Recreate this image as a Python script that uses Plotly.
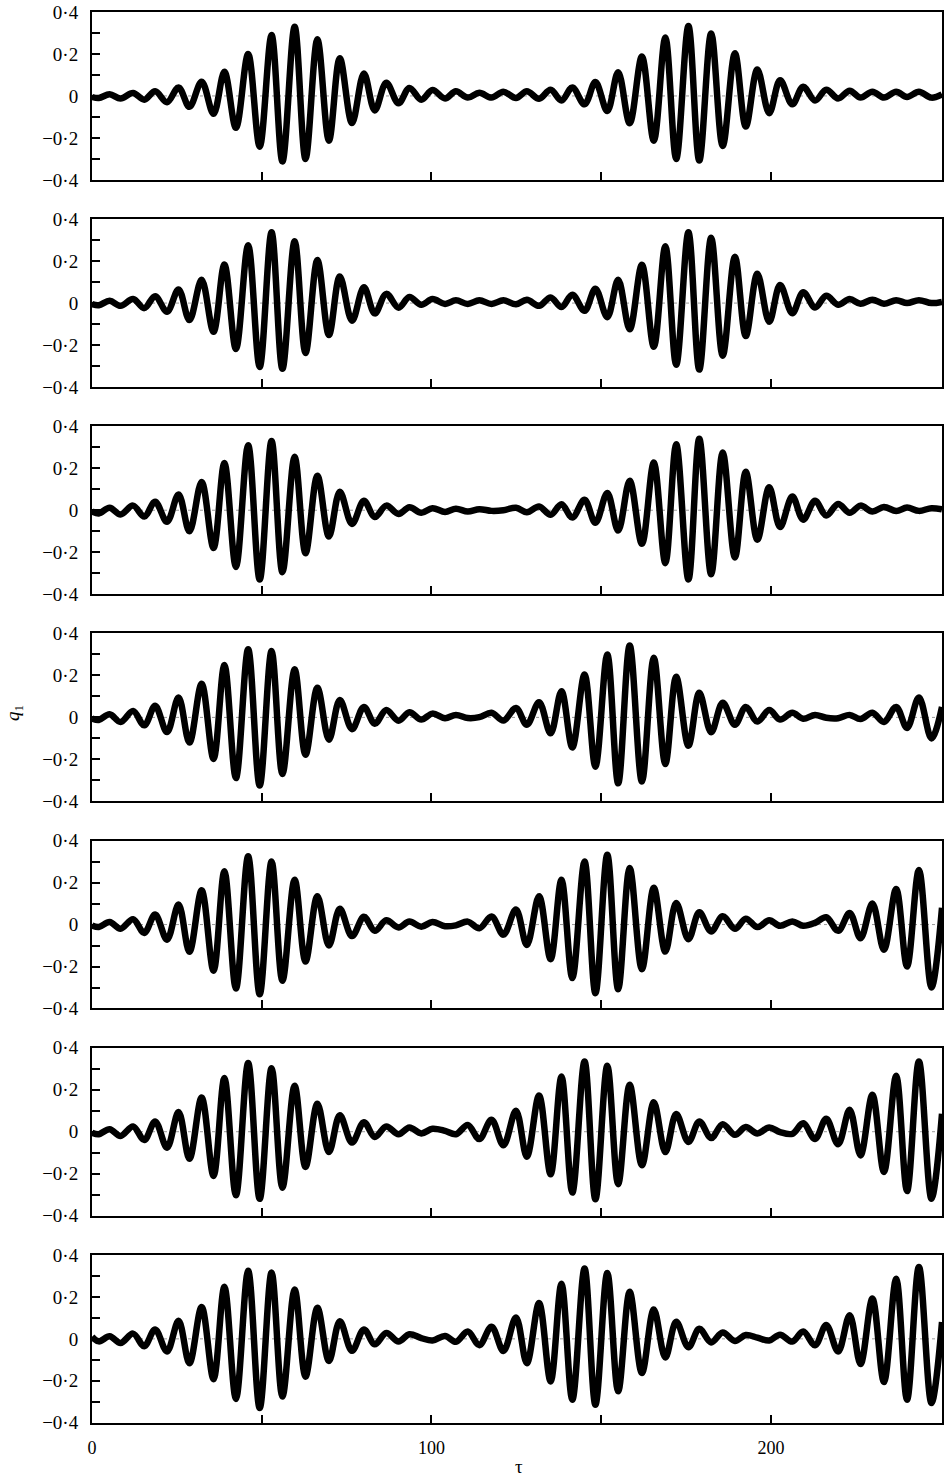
import plotly.graph_objects as go

# time of each extremum plus the two ends of the record
TAU = [0.0, 2.0, 5.2, 8.4, 12.1, 15.4, 18.6, 22.1, 25.5, 28.7, 32.3, 35.8, 39.0, 42.4, 46.0, 49.4,
       52.9, 56.1, 59.7, 62.9, 66.4, 69.8, 73.0, 76.6, 80.1, 83.3, 86.7, 90.3, 93.5, 97.0, 100.3,
       104.0, 107.2, 110.7, 114.1, 117.7, 121.2, 124.9, 128.1, 131.7, 135.1, 138.3, 141.5, 145.1,
       148.3, 151.8, 155.0, 158.4, 162.0, 165.5, 168.9, 172.1, 175.7, 178.9, 182.4, 185.8, 189.4,
       192.6, 196.0, 199.5, 202.7, 206.3, 209.5, 213.0, 216.3, 219.8, 223.2, 226.4, 229.9, 233.3,
       236.9, 240.1, 243.6, 247.3, 250.4]

Q1 = [-0.005, -0.010, 0.008, -0.012, 0.014, -0.018, 0.022, -0.030, 0.040, -0.052, 0.068, -0.085,
      0.115, -0.152, 0.200, -0.242, 0.290, -0.312, 0.330, -0.300, 0.270, -0.213, 0.180, -0.129,
      0.107, -0.069, 0.063, -0.035, 0.038, -0.018, 0.028, -0.012, 0.022, -0.008, 0.015, -0.008,
      0.020, -0.010, 0.022, -0.013, 0.030, -0.022, 0.040, -0.040, 0.066, -0.072, 0.113, -0.130,
      0.188, -0.213, 0.279, -0.300, 0.333, -0.308, 0.298, -0.239, 0.204, -0.146, 0.126, -0.082,
      0.075, -0.040, 0.044, -0.022, 0.030, -0.012, 0.025, -0.008, 0.020, -0.008, 0.020, -0.005,
      0.020, -0.008, 0.008]

Q2 = [-0.005, -0.010, 0.011, -0.013, 0.019, -0.024, 0.033, -0.041, 0.065, -0.081, 0.111, -0.137,
      0.184, -0.219, 0.276, -0.305, 0.337, -0.313, 0.295, -0.238, 0.205, -0.152, 0.127, -0.084,
      0.075, -0.049, 0.044, -0.022, 0.029, -0.008, 0.019, -0.004, 0.013, -0.004, 0.013, -0.004,
      0.013, -0.006, 0.016, -0.013, 0.027, -0.019, 0.040, -0.037, 0.068, -0.067, 0.111, -0.125,
      0.183, -0.208, 0.271, -0.294, 0.337, -0.317, 0.311, -0.251, 0.221, -0.157, 0.140, -0.089,
      0.086, -0.048, 0.052, -0.021, 0.035, -0.008, 0.019, -0.003, 0.016, -0.003, 0.014, 0.000,
      0.014, 0.000, 0.006]

Q3 = [-0.005, -0.015, 0.012, -0.020, 0.022, -0.030, 0.040, -0.055, 0.075, -0.100, 0.135, -0.180,
      0.225, -0.270, 0.310, -0.330, 0.330, -0.295, 0.255, -0.205, 0.165, -0.125, 0.088, -0.065,
      0.045, -0.032, 0.022, -0.018, 0.014, -0.012, 0.010, -0.008, 0.007, -0.006, 0.005, -0.003,
      0.000, 0.012, -0.010, 0.018, -0.022, 0.028, -0.035, 0.050, -0.060, 0.082, -0.097, 0.140,
      -0.160, 0.227, -0.252, 0.314, -0.330, 0.341, -0.305, 0.275, -0.225, 0.183, -0.140, 0.110,
      -0.080, 0.065, -0.045, 0.045, -0.025, 0.030, -0.012, 0.022, -0.006, 0.016, -0.004, 0.013,
      -0.003, 0.010, 0.004]

Q4 = [-0.005, -0.012, 0.015, -0.022, 0.030, -0.038, 0.055, -0.070, 0.095, -0.120, 0.160, -0.198,
      0.250, -0.289, 0.325, -0.325, 0.316, -0.270, 0.229, -0.178, 0.141, -0.106, 0.083, -0.056,
      0.050, -0.030, 0.035, -0.016, 0.025, -0.010, 0.018, -0.004, 0.012, -0.003, 0.001, 0.022,
      -0.015, 0.045, -0.035, 0.072, -0.076, 0.125, -0.143, 0.205, -0.235, 0.300, -0.314, 0.343,
      -0.305, 0.284, -0.222, 0.194, -0.135, 0.117, -0.071, 0.070, -0.035, 0.050, -0.020, 0.035,
      -0.010, 0.022, -0.006, 0.012, -0.002, -0.004, 0.012, -0.008, 0.022, -0.022, 0.050, -0.050,
      0.095, -0.100, 0.050]

Q5 = [-0.005, -0.012, 0.012, -0.020, 0.025, -0.040, 0.048, -0.072, 0.095, -0.130, 0.163, -0.220,
      0.254, -0.305, 0.325, -0.332, 0.300, -0.268, 0.214, -0.176, 0.135, -0.100, 0.075, -0.055,
      0.037, -0.030, 0.020, -0.014, 0.014, -0.010, 0.012, -0.008, -0.004, 0.014, -0.018, 0.038,
      -0.048, 0.072, -0.097, 0.135, -0.165, 0.214, -0.255, 0.300, -0.327, 0.333, -0.308, 0.270,
      -0.213, 0.175, -0.129, 0.103, -0.070, 0.059, -0.033, 0.040, -0.020, 0.028, -0.012, 0.020,
      -0.006, 0.015, -0.006, 0.008, 0.035, -0.030, 0.055, -0.065, 0.100, -0.120, 0.170, -0.200,
      0.260, -0.300, 0.080]

Q6 = [-0.005, -0.012, 0.012, -0.020, 0.025, -0.040, 0.049, -0.076, 0.094, -0.129, 0.163, -0.211,
      0.256, -0.303, 0.327, -0.320, 0.303, -0.267, 0.219, -0.168, 0.133, -0.097, 0.078, -0.052,
      0.045, -0.025, 0.025, -0.012, 0.020, -0.008, 0.014, 0.004, -0.012, 0.032, -0.035, 0.057,
      -0.065, 0.100, -0.119, 0.173, -0.203, 0.263, -0.290, 0.335, -0.322, 0.314, -0.250, 0.224,
      -0.160, 0.140, -0.097, 0.084, -0.049, 0.049, -0.030, 0.036, -0.015, 0.022, -0.008, 0.020,
      -0.002, -0.010, 0.040, -0.035, 0.062, -0.060, 0.105, -0.113, 0.176, -0.192, 0.267, -0.283,
      0.335, -0.319, 0.086]

Q7 = [0.010, -0.012, 0.012, -0.020, 0.025, -0.035, 0.045, -0.060, 0.086, -0.116, 0.152, -0.192,
      0.248, -0.286, 0.324, -0.330, 0.316, -0.275, 0.235, -0.180, 0.148, -0.105, 0.084, -0.057,
      0.045, -0.026, 0.028, -0.012, 0.022, 0.004, -0.008, 0.014, -0.014, 0.035, -0.030, 0.058,
      -0.058, 0.102, -0.116, 0.171, -0.203, 0.263, -0.290, 0.335, -0.314, 0.314, -0.250, 0.224,
      -0.163, 0.140, -0.089, 0.081, -0.040, 0.048, -0.017, 0.030, -0.010, 0.018, 0.006, -0.008,
      0.020, -0.013, 0.035, -0.030, 0.066, -0.060, 0.113, -0.120, 0.192, -0.206, 0.287, -0.290,
      0.343, -0.306, 0.080]

PANELS = [Q1, Q2, Q3, Q4, Q5, Q6, Q7]

Y_TICKVALS = [-0.4, -0.2, 0.0, 0.2, 0.4]
Y_TICKTEXT = ["\u22120\u00b74", "\u22120\u00b72", "0", "0\u00b72", "0\u00b74"]
Y_MINOR = [-0.3, -0.1, 0.1, 0.3]
X_TICKVALS = [0, 100, 200]
X_TICKTEXT = ["0", "100", "200"]
X_MINOR = [50, 150]
X_RANGE = [0, 250.4]
Y_RANGE = [-0.4, 0.4]

W, H = 946, 1482
MT, MB, ML, MR = 11, 59, 92, 2
PLOT_H = H - MT - MB
PANEL_H = 168
STEP = 207.3
YFONT = dict(family="Liberation Serif", size=19, color="black")
XFONT = dict(family="Liberation Serif", size=18, color="black")
LFONT = dict(family="Liberation Serif", size=19, color="black")

fig = go.Figure()
n = len(PANELS)
for k, q in enumerate(PANELS):
    idx = "" if k == 0 else str(k + 1)
    fig.add_trace(go.Scatter(
        x=TAU, y=q, mode="lines",
        line=dict(color="black", width=6.5, shape="spline", smoothing=1.0),
        xaxis="x" + idx, yaxis="y" + idx, showlegend=False, hoverinfo="skip"))
    top = 1 - k * STEP / PLOT_H
    bottom = max(0.0, top - PANEL_H / PLOT_H)
    last = (k == n - 1)
    tick_style = dict(ticks="inside", ticklen=8, tickwidth=1.5, tickcolor="black")
    fig.update_layout(**{
        "xaxis" + idx: dict(
            domain=[0, 1], anchor="y" + idx, range=X_RANGE,
            tickmode="array", tickvals=X_TICKVALS, ticktext=X_TICKTEXT,
            minor=dict(tickmode="array", tickvals=X_MINOR, **tick_style),
            showticklabels=last, showline=True, linecolor="black", linewidth=2,
            mirror=True, showgrid=False, zeroline=False, tickfont=XFONT,
            ticklabelstandoff=8, **tick_style),
        "yaxis" + idx: dict(
            domain=[bottom, top], anchor="x" + idx, range=Y_RANGE,
            tickmode="array", tickvals=Y_TICKVALS, ticktext=Y_TICKTEXT,
            minor=dict(tickmode="array", tickvals=Y_MINOR, **tick_style),
            showline=True, linecolor="black", linewidth=2, mirror=True,
            showgrid=False, zeroline=False, tickfont=YFONT,
            ticklabelstandoff=8, **tick_style),
    })
    fig.add_shape(type="line", xref=f"x{idx} domain", yref=f"y{idx}",
                  x0=0, x1=1, y0=0, y1=0, layer="below",
                  line=dict(color="#9a9a9a", width=1, dash="dot"))

fig.add_annotation(text="<i>q</i><sub>1</sub>", xref="paper", yref="paper",
                   x=-0.092, y=0.503, xanchor="center", yanchor="middle",
                   textangle=-90, showarrow=False, font=LFONT)
fig.add_annotation(text="\u03c4", xref="paper", yref="paper",
                   x=0.502, y=-0.031, xanchor="center", yanchor="middle",
                   showarrow=False, font=LFONT)

fig.update_layout(width=W, height=H, margin=dict(l=ML, r=MR, t=MT, b=MB),
                  paper_bgcolor="white", plot_bgcolor="white")
fig.write_html("out.html")
